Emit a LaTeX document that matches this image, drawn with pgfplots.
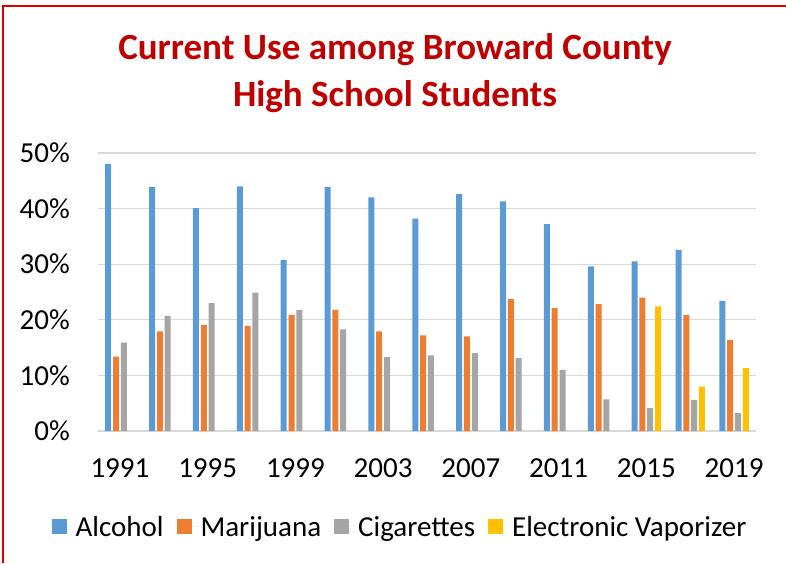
\documentclass[border=0pt]{standalone}
\usepackage{fontspec}
\setmainfont{Carlito}
\usepackage{pgfplots}
\pgfplotsset{compat=1.18}

\definecolor{alc}{HTML}{5B9BD5}
\definecolor{mar}{HTML}{ED7D31}
\definecolor{cig}{HTML}{A5A5A5}
\definecolor{vap}{HTML}{FFC000}
\definecolor{gridc}{HTML}{D9D9D9}
\definecolor{titlec}{HTML}{C00000}
\definecolor{framec}{HTML}{E00000}

\begin{document}
\begin{tikzpicture}
\useasboundingbox (0pt,0pt) rectangle (786pt,-563pt);
\draw[framec, line width=2pt] (2.5pt,-563pt) -- (2.5pt,-6pt) -- (786pt,-6pt);

\node[font=\fontsize{37}{44}\selectfont\bfseries, text=titlec] at (395pt,-50pt) {Current Use among Broward County};
\node[font=\fontsize{37}{44}\selectfont\bfseries, text=titlec] at (395pt,-97pt) {High School Students};

\begin{axis}[
  at={(98pt,-431pt)}, anchor=south west,
  scale only axis,
  width=658pt, height=278pt,
  ybar, bar width=6pt,
  xmin=-0.5, xmax=14.5,
  ymin=0, ymax=50,
  xtick={0,2,...,14},
  xticklabels={1991,1995,1999,2003,2007,2011,2015,2019},
  ytick={0,10,...,50},
  yticklabels={0\%,10\%,20\%,30\%,40\%,50\%},
  major tick length=0pt,
  axis line style={draw=none},
  ymajorgrids,
  grid style={gridc, line width=1.3pt},
  tick label style={font=\fontsize{29}{34}\selectfont, inner sep=0pt},
  xticklabel style={anchor=north, yshift=-27pt},
  yticklabel style={anchor=east, xshift=-28pt},
  legend style={at={(0.459,-0.345)}, anchor=center, draw=none,
    font=\fontsize{29}{34}\selectfont, column sep=0pt,
    /tikz/every even column/.append style={column sep=11pt}},
  legend columns=4,
  legend image code/.code={\fill[#1] (0pt,-7.5pt) rectangle (15pt,7.5pt);
    \path (0pt,0pt) -- (22pt,0pt);},
  legend cell align=left,
]
\addplot[fill=alc, draw=none, bar shift=-11.7pt] coordinates {
 (0,48.0) (1,43.9) (2,40.1) (3,44.0) (4,30.8) (5,43.9) (6,42.0) (7,38.2)
 (8,42.6) (9,41.3) (10,37.2) (11,29.6) (12,30.5) (13,32.6) (14,23.4)};
\addplot[fill=mar, draw=none, bar shift=-3.9pt] coordinates {
 (0,13.4) (1,17.9) (2,19.1) (3,18.9) (4,20.9) (5,21.8) (6,17.9) (7,17.2)
 (8,17.0) (9,23.7) (10,22.1) (11,22.8) (12,24.0) (13,20.9) (14,16.4)};
\addplot[fill=cig, draw=none, bar shift=3.9pt] coordinates {
 (0,15.9) (1,20.7) (2,23.0) (3,24.9) (4,21.8) (5,18.3) (6,13.3) (7,13.6)
 (8,14.0) (9,13.1) (10,11.0) (11,5.7) (12,4.1) (13,5.6) (14,3.2)};
\addplot[fill=vap, draw=none, bar shift=11.7pt] coordinates {
 (12,22.4) (13,8.0) (14,11.3)};
\legend{Alcohol, Marijuana, Cigarettes, Electronic Vaporizer}
\end{axis}
\end{tikzpicture}
\end{document}
